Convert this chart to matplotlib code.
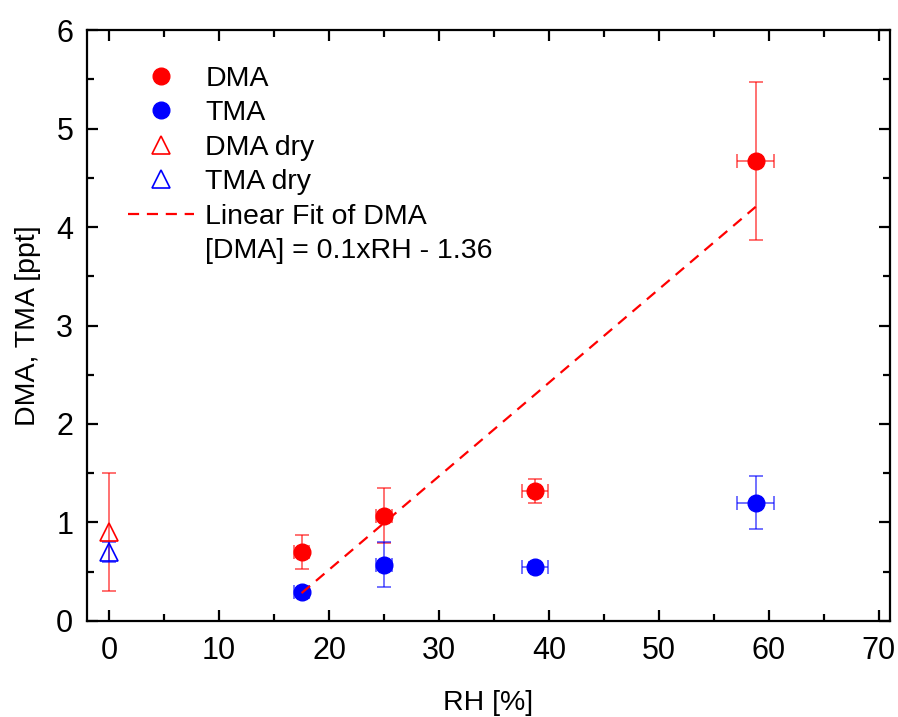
import matplotlib
matplotlib.use("Agg")
import matplotlib.pyplot as plt
import numpy as np
from matplotlib.ticker import MultipleLocator

plt.rcParams["font.family"] = ["Liberation Sans", "DejaVu Sans"]

# --- dati ---
rh = [17.5, 25.0, 38.7, 58.8]
rh_err = [0.7, 0.7, 1.2, 1.7]
dma = [0.70, 1.07, 1.32, 4.67]
dma_err = [0.17, 0.28, 0.12, 0.80]
tma = [0.29, 0.57, 0.55, 1.20]
tma_err = [0.03, 0.23, 0.05, 0.27]

rh_dry = [0.0]
dma_dry = [0.90]
dma_dry_err = [0.60]
tma_dry = [0.70]
tma_dry_err = [0.10]

fit_slope = 0.095
fit_intercept = -1.38

ROSSO = "#ff0000"
BLU = "#0000ff"

fig = plt.figure(figsize=(8.98, 7.17), dpi=100)
ax = fig.add_axes([0.097, 0.134, 0.894, 0.824])

ekw = dict(fmt="none", elinewidth=1.3, capsize=5, capthick=1.3, alpha=0.6)
ax.errorbar(rh, dma, yerr=dma_err, xerr=rh_err, ecolor=ROSSO, **ekw)
ax.errorbar(rh, tma, yerr=tma_err, xerr=rh_err, ecolor=BLU, **ekw)
ax.errorbar(rh_dry, dma_dry, yerr=dma_dry_err, ecolor=ROSSO, **ekw)
ax.errorbar(rh_dry, tma_dry, yerr=tma_dry_err, ecolor=BLU, **ekw)

ax.plot(rh, dma, "o", color=ROSSO, ms=12, label="DMA")
ax.plot(rh, tma, "o", color=BLU, ms=12, label="TMA")
ax.plot(rh_dry, dma_dry, "^", mfc="none", mec=ROSSO, mew=1.2, ms=12.5,
        label="DMA dry")
ax.plot(rh_dry, tma_dry, "^", mfc="none", mec=BLU, mew=1.2, ms=12.5,
        label="TMA dry")

xf = np.array([min(rh), max(rh)])
ax.plot(xf, fit_slope * xf + fit_intercept, "--", color=ROSSO, lw=1.6,
        dashes=(5, 3.5), label="Linear Fit of DMA")
ax.plot([], [], " ", label="[DMA] = 0.1xRH - 1.36")

ax.set_xlim(-2, 71)
ax.set_ylim(0, 6)
ax.xaxis.set_major_locator(MultipleLocator(10))
ax.xaxis.set_minor_locator(MultipleLocator(5))
ax.yaxis.set_major_locator(MultipleLocator(1))
ax.yaxis.set_minor_locator(MultipleLocator(0.5))
ax.tick_params(which="both", direction="in", top=True, right=True,
               width=1.6, labelsize=22)
ax.tick_params(which="major", length=8)
ax.tick_params(which="minor", length=5)
ax.tick_params(axis="x", which="major", pad=11)
ax.tick_params(axis="y", which="major", pad=10)
for s in ax.spines.values():
    s.set_linewidth(1.6)

ax.set_xlabel("RH [%]", fontsize=20.5, labelpad=17)
ax.set_ylabel("DMA, TMA [ppt]", fontsize=20.5, labelpad=11)

ax.legend(loc="upper left", bbox_to_anchor=(0.051, 0.94), frameon=False,
          fontsize=20.5, borderpad=0, borderaxespad=0, handlelength=2.3,
          handletextpad=0.42, labelspacing=0.3)

fig.savefig("out.png", dpi=100)
